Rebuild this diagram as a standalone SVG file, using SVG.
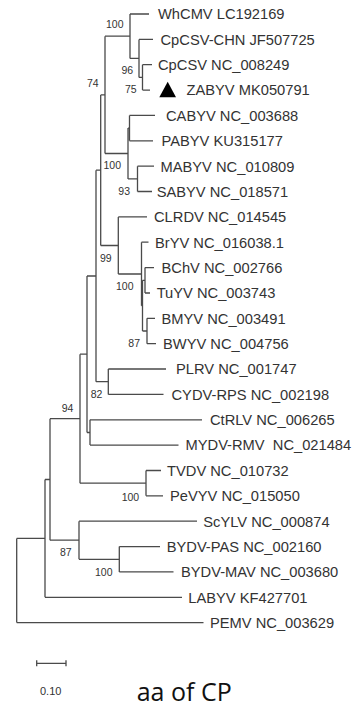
<svg xmlns="http://www.w3.org/2000/svg" width="356" height="707" viewBox="0 0 356 707">
<style>
.br{fill:none;stroke:#4a4a4a;stroke-width:1.3}
.tip{font-family:"Liberation Sans",Arial,sans-serif;font-size:14.7px;fill:#333}
.bs{font-family:"Liberation Sans",Arial,sans-serif;font-size:10.5px;fill:#333}
</style>
<rect width="356" height="707" fill="#fff"/>
<g id="connectors" class="br">
<path d="M16.7,538.4V622.6 M45,479.5V597.3 M50,418.7V540.2 M80,354.2V483.2 M87,276V432.5 M96,170.2V381.7 M100.7,94.9V245.5 M105,36.2V153.5 M130,14V58.4 M139,39.4V77.4 M142.5,64.7V90.1 M128,128.1V178.9 M129.5,115.4V140.8 M137.5,166.2V191.5 M118.3,216.9V274 M141.5,242.2V305.7 M142.5,280.3V331 M145,267.6V293 M147,318.3V343.7 M108.3,369V394.4 M90,419.8V445.1 M146,470.5V495.8 M79,521.2V559.3 M119.3,546.6V571.9"/>
<path d="M139,77.4H142.5 M130,58.4H139 M105,36.2H130 M128,128.1H129.5 M128,178.9H137.5 M105,153.5H128 M100.7,94.9H105 M142.5,280.3H145 M142.5,331H147 M141.5,305.7H142.5 M118.3,274H141.5 M100.7,245.5H118.3 M96,170.2H100.7 M96,381.7H108.3 M87,276H96 M87,432.5H90 M80,354.2H87 M80,483.2H146 M50,418.7H80 M79,559.3H119.3 M50,540.2H79 M45,479.5H50 M16.7,538.4H45"/>
<path d="M130,14H149 M139,39.4H153 M142.5,64.7H152 M142.5,90.1H150 M129.5,115.4H155 M129.5,140.8H153 M137.5,166.2H154 M137.5,191.5H152 M118.3,216.9H147 M141.5,242.2H148.5 M145,267.6H154 M145,293H150 M147,318.3H155 M147,343.7H156 M108.3,369H166 M108.3,394.4H163.5 M90,419.8H202 M90,445.1H178.5 M146,470.5H161 M146,495.8H163 M79,521.2H197 M119.3,546.6H160 M119.3,571.9H173.5 M45,597.3H182 M16.7,622.6H203.5"/>
</g>
<g id="WhCMV"><text class="tip" x="158" y="19.3">WhCMV LC192169</text></g>
<g id="CpCSV-CHN"><text class="tip" x="160.5" y="44.7">CpCSV-CHN JF507725</text></g>
<g id="CpCSV"><text class="tip" x="158" y="70">CpCSV NC_008249</text></g>
<g id="ZABYV"><polygon points="159.3,97.3 176,97.3 167.7,81.7" fill="#000"/><text class="tip" x="186.5" y="95.4">ZABYV MK050791</text></g>
<g id="CABYV"><text class="tip" x="166" y="120.7">CABYV NC_003688</text></g>
<g id="PABYV"><text class="tip" x="161.5" y="146.1">PABYV KU315177</text></g>
<g id="MABYV"><text class="tip" x="160.5" y="171.5">MABYV NC_010809</text></g>
<g id="SABYV"><text class="tip" x="156.7" y="196.8">SABYV NC_018571</text></g>
<g id="CLRDV"><text class="tip" x="154" y="222.2">CLRDV NC_014545</text></g>
<g id="BrYV"><text class="tip" x="155" y="247.5">BrYV NC_016038.1</text></g>
<g id="BChV"><text class="tip" x="161.5" y="272.9">BChV NC_002766</text></g>
<g id="TuYV"><text class="tip" x="156.7" y="298.3">TuYV NC_003743</text></g>
<g id="BMYV"><text class="tip" x="161.5" y="323.6">BMYV NC_003491</text></g>
<g id="BWYV"><text class="tip" x="163" y="349">BWYV NC_004756</text></g>
<g id="PLRV"><text class="tip" x="176" y="374.3">PLRV NC_001747</text></g>
<g id="CYDV-RPS"><text class="tip" x="171.5" y="399.7">CYDV-RPS NC_002198</text></g>
<g id="CtRLV"><text class="tip" x="210" y="425.1">CtRLV NC_006265</text></g>
<g id="MYDV-RMV"><text class="tip" x="185.5" y="450.4" style="white-space:pre">MYDV-RMV  NC_021484</text></g>
<g id="TVDV"><text class="tip" x="167" y="475.8">TVDV NC_010732</text></g>
<g id="PeVYV"><text class="tip" x="170" y="501.1">PeVYV NC_015050</text></g>
<g id="ScYLV"><text class="tip" x="203.3" y="526.5">ScYLV NC_000874</text></g>
<g id="BYDV-PAS"><text class="tip" x="166.7" y="551.9">BYDV-PAS NC_002160</text></g>
<g id="BYDV-MAV"><text class="tip" x="181" y="577.2">BYDV-MAV NC_003680</text></g>
<g id="LABYV"><text class="tip" x="188.3" y="602.6">LABYV KF427701</text></g>
<g id="PEMV"><text class="tip" x="210" y="627.9">PEMV NC_003629</text></g>
<g id="bootstrap" class="bs">
<text x="106" y="28">100</text>
<text x="121.5" y="74">96</text>
<text x="125" y="92.5">75</text>
<text x="87" y="87">74</text>
<text x="103.5" y="169">100</text>
<text x="118.3" y="195">93</text>
<text x="100" y="261.5">99</text>
<text x="116" y="289.7">100</text>
<text x="128.3" y="347">87</text>
<text x="90.7" y="398">82</text>
<text x="61.7" y="411.5">94</text>
<text x="121.7" y="500.5">100</text>
<text x="60" y="555.5">87</text>
<text x="95" y="575.5">100</text>
</g>
<g id="scale">
<path class="br" d="M36.7,663.3H66 M36.7,660.3V666.3 M66,660.3V666.3"/>
<text x="40" y="695" font-family="'Liberation Sans',Arial,sans-serif" font-size="11" fill="#333">0.10</text>
</g>
<g id="title"><text x="136.7" y="701" font-family="'Open Sans','Liberation Sans',sans-serif" font-size="25" fill="#111">aa of CP</text></g>
</svg>
